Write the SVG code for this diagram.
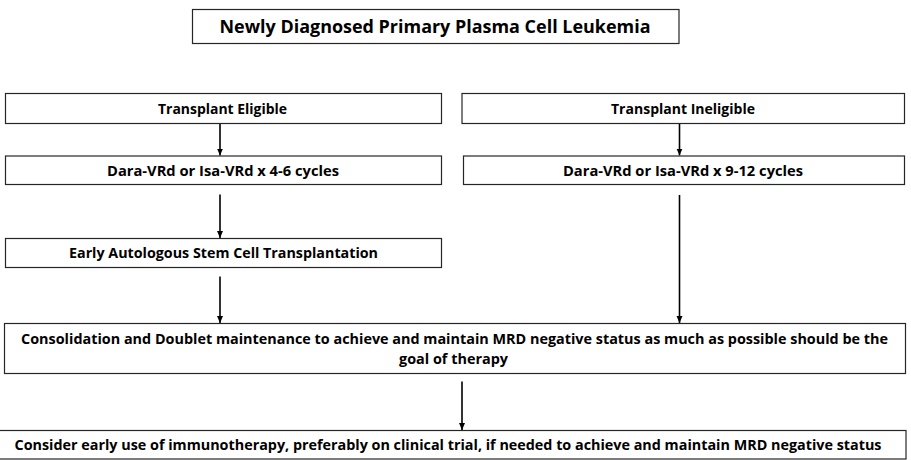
<svg xmlns="http://www.w3.org/2000/svg" width="911" height="460" viewBox="0 0 911 460">
<style>
.box{fill:#fff;stroke:#262626;stroke-width:1.2}
.t{font-family:"Open Sans","Liberation Sans",sans-serif;font-weight:bold;font-size:14px;fill:#000;text-anchor:middle}
.title{font-size:18px}
.c{stroke:#000;stroke-width:1.6;fill:none;marker-end:url(#ah)}
</style>
<defs>
<marker id="ah" markerUnits="userSpaceOnUse" markerWidth="8" markerHeight="8" refX="7" refY="4" orient="auto">
<path d="M0,1 L7,4 L0,7 z" fill="#000"/>
</marker>
</defs>
<rect width="911" height="460" fill="#fff"/>
<g id="connectors">
<line class="c" x1="220" y1="124" x2="220" y2="155.5"/>
<line class="c" x1="220" y1="194.5" x2="220" y2="238"/>
<line class="c" x1="220" y1="276.5" x2="220" y2="323"/>
<line class="c" x1="679.5" y1="124" x2="679.5" y2="155.5"/>
<line class="c" x1="679.5" y1="195" x2="679.5" y2="323"/>
<line class="c" x1="462" y1="381.5" x2="462" y2="430"/>
</g>
<g id="n_title">
<rect class="box" x="192.5" y="9.5" width="486.5" height="34"/>
<text class="t title" x="435" y="33" textLength="431" lengthAdjust="spacingAndGlyphs">Newly Diagnosed Primary Plasma Cell Leukemia</text>
</g>
<g id="n_eligible">
<rect class="box" x="5.5" y="93.5" width="436" height="30"/>
<text class="t" x="222.5" y="113.5" textLength="129" lengthAdjust="spacingAndGlyphs">Transplant Eligible</text>
</g>
<g id="n_ineligible">
<rect class="box" x="462" y="93.5" width="442.5" height="30"/>
<text class="t" x="683" y="113.5" textLength="144" lengthAdjust="spacingAndGlyphs">Transplant Ineligible</text>
</g>
<g id="n_dara_left">
<rect class="box" x="5.5" y="156" width="436" height="28.5"/>
<text class="t" x="223" y="176" textLength="232" lengthAdjust="spacingAndGlyphs">Dara-VRd or Isa-VRd x 4-6 cycles</text>
</g>
<g id="n_dara_right">
<rect class="box" x="463.5" y="156" width="441" height="28.5"/>
<text class="t" x="683" y="176" textLength="240" lengthAdjust="spacingAndGlyphs">Dara-VRd or Isa-VRd x 9-12 cycles</text>
</g>
<g id="n_asct">
<rect class="box" x="5.5" y="238.5" width="436" height="29"/>
<text class="t" x="223.5" y="257.5" textLength="309" lengthAdjust="spacingAndGlyphs">Early Autologous Stem Cell Transplantation</text>
</g>
<g id="n_consolidation">
<rect class="box" x="4.5" y="323.5" width="901" height="50"/>
<text class="t" x="454.5" y="343.5" textLength="867" lengthAdjust="spacingAndGlyphs">Consolidation and Doublet maintenance to achieve and maintain MRD negative status as much as possible should be the</text>
<text class="t" x="453.5" y="364" textLength="109" lengthAdjust="spacingAndGlyphs">goal of therapy</text>
</g>
<g id="n_immuno">
<rect class="box" x="-1" y="430.5" width="907" height="28.5"/>
<text class="t" x="448" y="450" textLength="867" lengthAdjust="spacingAndGlyphs">Consider early use of immunotherapy, preferably on clinical trial, if needed to achieve and maintain MRD negative status</text>
</g>
</svg>
